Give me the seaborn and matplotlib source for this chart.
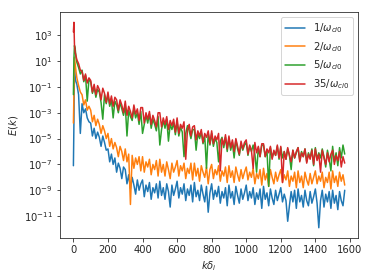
import matplotlib
matplotlib.use('Agg')

import numpy as np
import pandas as pd
import matplotlib.pyplot as plt
import seaborn as sns

# k grid: a few fine points at the start, then every 10 units up to 1570
k = np.concatenate([[0, 3, 6, 10, 15], np.arange(20, 1571, 10)])

# log10 E(k), per run
log_e_1 = [
    -7.1, -3.8, 0.4, -0.3, -0.6,
    -0.8, -1.6, -4.6, -2.3, -3.0, -2.7, -3.4, -3.7,
    -3.8, -4.8, -4.2, -5.0, -4.5, -4.9, -5.6, -4.8, -5.3, -5.9,
    -5.8, -6.8, -6.2, -7.0, -6.5, -7.6, -6.9, -7.3, -8.1, -7.2,
    -7.4, -8.5, -7.8, -8.9, -8.0, -8.6, -9.3, -8.2, -9.0, -8.5,
    -8.2, -9.5, -8.6, -9.1, -8.4, -9.7, -8.8, -9.2, -8.5, -9.6,
    -8.3, -9.4, -8.8, -9.7, -8.5, -9.1, -10.3, -8.6, -9.4, -8.9,
    -8.3, -9.6, -8.8, -9.3, -8.5, -9.8, -8.9, -9.4, -8.6, -9.9,
    -8.4, -9.5, -9.0, -9.8, -8.6, -9.3, -9.9, -8.7, -10.7, -9.2,
    -8.5, -9.7, -9.0, -9.5, -8.7, -10.0, -9.1, -9.6, -8.8, -10.2,
    -8.6, -9.6, -9.1, -10.1, -8.7, -9.4, -10.0, -8.9, -9.7, -9.2,
    -8.6, -9.8, -9.1, -9.6, -8.8, -10.1, -9.2, -9.7, -8.9, -10.4,
    -8.7, -9.7, -9.2, -10.2, -8.9, -9.6, -10.1, -9.0, -9.8, -9.3,
    -8.8, -9.9, -9.3, -9.8, -11.4, -10.2, -9.1, -9.9, -9.0, -10.4,
    -8.9, -9.9, -9.4, -10.3, -9.0, -9.8, -10.2, -9.1, -10.0, -9.5,
    -8.9, -10.0, -11.9, -9.8, -9.0, -10.3, -9.3, -9.9, -9.1, -10.4,
    -9.0, -10.0, -9.4, -10.5, -9.1, -9.8, -10.2, -9.0,
]
log_e_2 = [
    -3.8, -1.6, 1.3, 0.8, 0.2,
    -0.3, -0.9, -1.4, -1.6, -2.4, -2.0, -2.8, -2.5,
    -2.8, -3.7, -3.2, -4.0, -3.5, -3.9, -4.6, -4.0, -4.4, -5.0,
    -4.6, -5.6, -5.0, -5.8, -5.3, -5.7, -6.4, -5.6, -6.0, -6.7,
    -5.8, -6.8, -6.2, -10.1, -6.3, -7.3, -6.5, -7.0, -6.4, -7.5,
    -6.4, -7.6, -6.8, -7.2, -6.6, -7.8, -7.0, -7.4, -6.7, -7.9,
    -6.6, -7.6, -7.0, -7.9, -6.8, -7.4, -8.1, -6.9, -7.6, -7.2,
    -6.7, -7.9, -7.1, -7.5, -6.9, -8.1, -7.3, -7.7, -6.9, -8.2,
    -6.9, -7.9, -7.3, -8.3, -7.1, -7.6, -8.0, -7.2, -8.5, -7.4,
    -7.0, -8.1, -7.4, -7.8, -7.1, -8.3, -7.5, -7.9, -7.2, -8.4,
    -7.1, -8.0, -7.5, -8.4, -7.2, -7.8, -8.3, -7.4, -8.1, -7.6,
    -7.2, -8.2, -7.6, -8.0, -7.3, -8.5, -7.7, -8.1, -7.4, -8.6,
    -7.3, -8.2, -7.7, -8.7, -7.4, -8.0, -8.5, -7.6, -8.3, -7.8,
    -7.4, -8.4, -7.8, -8.2, -7.5, -8.7, -7.9, -8.3, -7.6, -8.8,
    -7.5, -8.4, -7.9, -8.8, -7.6, -8.2, -8.6, -7.7, -8.5, -8.0,
    -7.5, -8.5, -7.9, -8.3, -7.6, -8.8, -8.0, -8.4, -7.6, -8.9,
    -7.5, -8.4, -7.9, -8.7, -7.6, -8.3, -7.8, -8.6,
]
log_e_5 = [
    -1.6, 1.2, 2.2, 2.0, 1.3,
    0.9, 0.5, 0.0, 0.3, -0.6, -0.1, -2.1, -0.4,
    -0.6, -1.5, -1.0, -1.8, -1.2, -1.4, -2.2, -3.5, -1.6, -2.3,
    -1.6, -2.5, -2.0, -3.4, -2.1, -2.4, -3.0, -2.2, -2.7, -3.2,
    -2.4, -4.8, -2.8, -3.3, -3.6, -2.7, -3.4, -3.0, -3.9, -2.9,
    -4.6, -3.9, -3.2, -3.8, -3.1, -4.2, -3.5, -3.9, -4.4, -3.3,
    -5.5, -4.3, -3.6, -4.2, -3.5, -5.2, -3.9, -4.3, -3.8, -4.7,
    -3.7, -4.8, -4.1, -4.5, -6.4, -4.6, -4.0, -4.4, -5.0, -4.3,
    -4.3, -5.9, -4.6, -5.0, -4.5, -5.4, -4.8, -7.3, -4.6, -5.5,
    -4.6, -5.6, -5.0, -5.3, -6.8, -5.2, -4.9, -5.7, -4.9, -6.0,
    -5.0, -5.9, -5.3, -6.5, -5.1, -5.8, -6.3, -5.4, -5.9, -5.5,
    -5.3, -6.3, -5.6, -6.0, -5.5, -6.2, -7.6, -5.7, -6.4, -5.5,
    -5.5, -6.4, -5.9, -8.7, -5.7, -6.5, -6.0, -6.3, -5.6, -6.6,
    -5.7, -6.5, -6.0, -6.6, -5.8, -6.3, -7.4, -5.9, -6.5, -6.1,
    -5.7, -6.7, -6.0, -6.4, -5.8, -6.8, -6.1, -6.5, -5.8, -7.1,
    -5.7, -6.6, -6.1, -6.5, -5.8, -6.4, -7.2, -5.9, -6.6, -7.5,
    -5.6, -6.8, -6.1, -7.1, -5.7, -6.5, -5.5, -6.2,
]
log_e_35 = [
    3.25, 4.0, 2.3, 1.7, 1.4,
    1.1, 0.8, 0.3, 0.2, -0.5, 0.0, -0.7, -0.3,
    -0.5, -1.4, -0.8, -1.6, -0.9, -1.2, -2.0, -1.1, -1.5, -2.2,
    -1.4, -2.3, -1.7, -2.5, -1.8, -2.0, -2.8, -2.0, -2.4, -3.0,
    -2.1, -3.2, -2.5, -2.9, -3.4, -2.4, -3.1, -2.7, -3.6, -2.6,
    -2.6, -3.8, -3.0, -3.5, -2.9, -3.9, -3.2, -3.6, -4.1, -3.0,
    -3.0, -4.1, -3.4, -3.9, -3.3, -4.3, -3.6, -4.0, -3.5, -4.5,
    -3.4, -4.6, -3.9, -4.2, -3.7, -6.6, -4.3, -3.9, -4.8, -4.1,
    -4.0, -5.1, -4.4, -4.8, -4.3, -5.3, -4.6, -4.9, -4.4, -5.4,
    -4.4, -5.4, -4.8, -5.1, -4.6, -7.5, -5.0, -5.5, -4.7, -5.8,
    -4.8, -5.7, -5.1, -6.0, -5.0, -5.6, -6.2, -5.2, -5.8, -5.3,
    -5.1, -6.2, -5.5, -5.9, -7.3, -5.3, -6.1, -5.6, -6.4, -5.4,
    -5.4, -6.4, -5.8, -6.1, -5.6, -6.6, -5.9, -6.3, -5.5, -6.5,
    -5.6, -8.4, -6.0, -6.6, -5.7, -6.3, -6.8, -5.9, -6.5, -6.0,
    -5.7, -6.8, -6.1, -6.4, -5.8, -6.9, -6.2, -6.6, -5.9, -7.0,
    -5.8, -6.7, -6.2, -7.6, -5.9, -6.5, -7.0, -6.1, -6.8, -6.2,
    -5.9, -7.0, -6.3, -6.7, -6.0, -7.2, -6.4, -6.9,
]

labels = [r'$1/\omega_{ci0}$', r'$2/\omega_{ci0}$', r'$5/\omega_{ci0}$', r'$35/\omega_{ci0}$']
series = [log_e_1, log_e_2, log_e_5, log_e_35]

frames = []
for lab, vals in zip(labels, series):
    frames.append(pd.DataFrame({'k': k, 'E': 10.0 ** np.array(vals), 'run': lab}))
df = pd.concat(frames, ignore_index=True)

sns.set_style("ticks")

fig, ax = plt.subplots(figsize=(374 / 72, 280 / 72), dpi=72)
fig.subplots_adjust(left=0.160, right=0.958, top=0.957, bottom=0.150)

palette = ['#1f77b4', '#ff7f0e', '#2ca02c', '#d62728']
sns.lineplot(data=df, x='k', y='E', hue='run', hue_order=labels, palette=palette,
             estimator=None, sort=False, linewidth=1.5, ax=ax)

ax.set_yscale('log')
ax.set_xlabel(r'$k\delta_i$')
ax.set_ylabel(r'$E(k)$')
handles, labs = ax.get_legend_handles_labels()
ax.legend(handles, labs, loc='upper right')

fig.savefig('out.png', dpi=72)
